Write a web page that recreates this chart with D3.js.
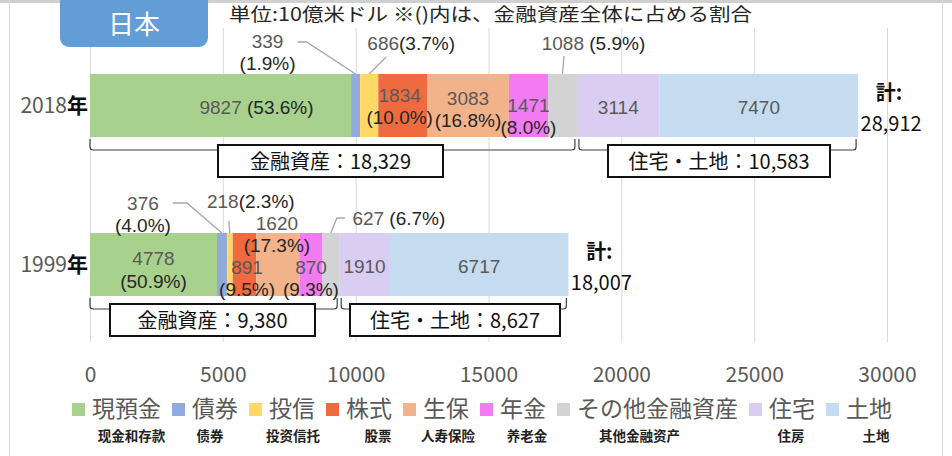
<!DOCTYPE html>
<html>
<head>
<meta charset="utf-8">
<script src="https://cdn.jsdelivr.net/npm/d3@7"></script>
<style>
  html, body { margin: 0; padding: 0; background: #fff; }
  svg { display: block; font-family: 'Noto Sans CJK JP', 'Noto Sans', sans-serif; }
</style>
</head>
<body>
<svg id="chart" width="952" height="456"></svg>
<script>
// ---------------- data ----------------
const categories = ["現預金", "債券", "投信", "株式", "生保", "年金", "その他金融資産", "住宅", "土地"];
const subLabels = ["现金和存款", "债券", "投资信托", "股票", "人寿保险", "养老金", "其他金融资产", "住房", "土地"];
const years = ["2018年", "1999年"];
const values2018 = [9827, 339, 686, 1834, 3083, 1471, 1088, 3114, 7470];
const values1999 = [4778, 376, 218, 891, 1620, 870, 627, 1910, 6717];
const pct2018 = ["53.6%", "1.9%", "3.7%", "10.0%", "16.8%", "8.0%", "5.9%", null, null];
const pct1999 = ["50.9%", "4.0%", "2.3%", "9.5%", "17.3%", "9.3%", "6.7%", null, null];
const finTotalLabels = ["18,329", "9,380"];
const landTotalLabels = ["10,583", "8,627"];
const totalLabels = ["28,912", "18,007"];
const xTicks = [0, 5000, 10000, 15000, 20000, 25000, 30000];
const titleText = "日本";
const unitText = "単位:10億米ドル ※()内は、金融資産全体に占める割合";
const finName = "金融資産";
const landName = "住宅・土地";
const totalName = "計:";

// ---------------- styles / layout ----------------
const colors = ["#A9D18E", "#8FAADC", "#FFD966", "#EF6A3F", "#F2B38A", "#F27AF2", "#D3D3D3", "#D9CDF2", "#C5DCF0"];
const NUM = "#595959", PCT = "#262626";
const LABEL_FS = 19;
const LABEL_FONT = "'Liberation Sans', Arial, sans-serif";
const labelLayout = {
  "2018年": [
    { fmt: "inline", dx: 36, ref: "c", dy: [2] },
    { fmt: "two", dx: -88, ref: "t", dy: [-33, -11], leader: [[-58, -32], [-49, -32], [0, 0]] },
    { fmt: "joined", dx: 42, ref: "t", dy: [-31], leader: [[17, -17], [0, 0]] },
    { fmt: "two", dx: -3, ref: "c", dy: [-10, 12] },
    { fmt: "two", dx: 0, ref: "c", dy: [-7, 15] },
    { fmt: "two", dx: 0, ref: "c", dy: [0, 22] },
    { fmt: "inline", dx: 31, ref: "t", dy: [-31], leader: [[1.5, -18], [0, 0]] },
    { fmt: "num", dx: 0, ref: "c", dy: [2] },
    { fmt: "num", dx: 0, ref: "c", dy: [2] }
  ],
  "1999年": [
    { fmt: "two", dx: 0, ref: "c", dy: [-6, 17] },
    { fmt: "two", dx: -79, ref: "t", dy: [-30, -8], leader: [[-49, -30], [-35, -30], [0, 0]] },
    { fmt: "joined", dx: 21, ref: "t", dy: [-32], leader: [[-1, -12], [0, 0]] },
    { fmt: "two", dx: 2.5, ref: "c", dy: [3, 25] },
    { fmt: "two", dx: -1, ref: "c", dy: [-41, -19] },
    { fmt: "two", dx: 0, ref: "c", dy: [3, 25] },
    { fmt: "inline", dx: 68, ref: "t", dy: [-15], leader: [[14, -15], [6, -15], [0, 0]] },
    { fmt: "num", dx: 0, ref: "c", dy: [2] },
    { fmt: "num", dx: 0, ref: "c", dy: [2] }
  ]
};
const subDx = [5, -5, 1, 9, 2, 4, -18, -1, 7];

// ---------------- build ----------------
const valuesByYear = { "2018年": values2018, "1999年": values1999 };
const pctByYear = { "2018年": pct2018, "1999年": pct1999 };
const table = years.map(yr => {
  const row = { year: yr };
  categories.forEach((c, i) => row[c] = valuesByYear[yr][i]);
  return row;
});
const series = d3.stack().keys(categories)(table);

const svg = d3.select("#chart");
const x = d3.scaleLinear().domain([0, 30000]).range([90, 887]);
const yC = d3.scalePoint().domain(years).range([105.5, 264.5]);
const barH = 63;
const color = d3.scaleOrdinal().domain(categories).range(colors);

// frame lines
svg.append("line").attr("x1", 0).attr("x2", 952).attr("y1", 1.5).attr("y2", 1.5).attr("stroke", "#cfcfcf").attr("stroke-width", 3);
svg.append("line").attr("x1", 9.5).attr("x2", 9.5).attr("y1", 0).attr("y2", 456).attr("stroke", "#dedede");
svg.append("line").attr("x1", 942.5).attr("x2", 942.5).attr("y1", 0).attr("y2", 456).attr("stroke", "#dedede");

// grid + axis
const axisG = svg.append("g").attr("transform", "translate(0,342)")
  .call(d3.axisBottom(x).tickValues(xTicks).tickSize(-314).tickFormat(d3.format("d")));
axisG.select(".domain").remove();
axisG.selectAll(".tick line").attr("stroke", "#d9d9d9");
axisG.selectAll(".tick text").attr("y", 33).attr("dy", "0.35em")
  .attr("font-size", 21).attr("fill", NUM).attr("font-family", "'Noto Sans CJK JP', sans-serif");

// title box
svg.append("rect").attr("x", 60).attr("y", -12).attr("width", 148).attr("height", 59).attr("rx", 9)
  .attr("fill", "#639DD6");
svg.append("text").attr("x", 134).attr("y", 25).attr("dy", "0.35em").attr("text-anchor", "middle")
  .attr("font-size", 26).attr("fill", "#fff").text(titleText);
svg.append("text").attr("x", 229).attr("y", 15).attr("dy", "0.35em")
  .attr("font-size", 18.5).attr("fill", "#262626").attr("textLength", 523).attr("lengthAdjust", "spacingAndGlyphs")
  .text(unitText);

// bars
svg.append("g").selectAll("g").data(series).join("g")
  .attr("fill", d => color(d.key))
  .selectAll("rect").data(d => d).join("rect")
  .attr("x", d => x(d[0]))
  .attr("width", d => x(d[1]) - x(d[0]))
  .attr("y", d => yC(d.data.year) - barH / 2)
  .attr("height", barH);

// year labels
years.forEach(yr => {
  const t = svg.append("text").attr("x", 88).attr("y", yC(yr)).attr("dy", "0.35em")
    .attr("text-anchor", "end").attr("font-size", 21);
  t.append("tspan").attr("fill", NUM).text(yr.replace("年", ""));
  t.append("tspan").attr("fill", "#111").attr("font-weight", "bold").text("年");
});

// value labels
const labG = svg.append("g").attr("font-size", LABEL_FS).attr("font-family", LABEL_FONT);
years.forEach(yr => {
  const vals = valuesByYear[yr], pcts = pctByYear[yr];
  const cy = yC(yr), top = cy - barH / 2;
  labelLayout[yr].forEach((L, i) => {
    const s = series[i].find(d => d.data.year === yr);
    const cx = (x(s[0]) + x(s[1])) / 2;
    const base = L.ref === "t" ? top : cy;
    if (L.leader) {
      labG.append("path")
        .attr("d", d3.line()(L.leader.map(p => [cx + p[0], top + p[1]])))
        .attr("fill", "none").attr("stroke", "#a6a6a6").attr("stroke-width", 1.3);
    }
    const tx = cx + L.dx;
    if (L.fmt === "two") {
      labG.append("text").attr("x", tx).attr("y", base + L.dy[0]).attr("dy", "0.35em")
        .attr("text-anchor", "middle").attr("fill", NUM).text(vals[i]);
      labG.append("text").attr("x", tx).attr("y", base + L.dy[1]).attr("dy", "0.35em")
        .attr("text-anchor", "middle").attr("fill", PCT).text("(" + pcts[i] + ")");
    } else if (L.fmt === "num") {
      labG.append("text").attr("x", tx).attr("y", base + L.dy[0]).attr("dy", "0.35em")
        .attr("text-anchor", "middle").attr("fill", NUM).text(vals[i]);
    } else {
      const t = labG.append("text").attr("x", tx).attr("y", base + L.dy[0]).attr("dy", "0.35em")
        .attr("text-anchor", "middle");
      t.append("tspan").attr("fill", NUM).text(vals[i] + (L.fmt === "inline" ? " " : ""));
      t.append("tspan").attr("fill", PCT).text("(" + pcts[i] + ")");
    }
  });
});

// totals
years.forEach((yr, yi) => {
  const cy = yC(yr);
  const total = d3.sum(valuesByYear[yr]);
  const tx = x(total) + 33;
  svg.append("text").attr("x", tx - 2).attr("y", cy - 13).attr("dy", "0.35em").attr("text-anchor", "middle")
    .attr("font-size", 20).attr("fill", "#111").attr("font-weight", "bold").text(totalName);
  svg.append("text").attr("x", tx).attr("y", cy + 18).attr("dy", "0.35em").attr("text-anchor", "middle")
    .attr("font-size", 20).attr("fill", "#111").text(totalLabels[yi]);
});

// brackets + boxes
const boxLayout = {
  "2018年": { fin: [218, 225], land: [608, 222] },
  "1999年": { fin: [110, 205], land: [350, 210] }
};
years.forEach((yr, yi) => {
  const vals = valuesByYear[yr];
  const finSum = d3.sum(vals.slice(0, 7));
  const total = d3.sum(vals);
  const bottom = yC(yr) + barH / 2;
  const y0 = bottom + 2, y1 = bottom + 13;
  const segs = [[x(0), x(finSum) - 2], [x(finSum) + 2, x(total) - 2]];
  segs.forEach(([a, b]) => {
    svg.append("path")
      .attr("d", `M${a},${y0} L${a},${y1 - 3} Q${a},${y1} ${a + 3},${y1} L${b - 3},${y1} Q${b},${y1} ${b},${y1 - 3} L${b},${y0}`)
      .attr("fill", "none").attr("stroke", "#404040").attr("stroke-width", 1.2);
  });
  const bl = boxLayout[yr];
  const boxTop = bottom + 8, boxH = 32;
  [[bl.fin, finName + "：" + finTotalLabels[yi]], [bl.land, landName + "：" + landTotalLabels[yi]]].forEach(([bx, label]) => {
    svg.append("rect").attr("x", bx[0]).attr("y", boxTop).attr("width", bx[1]).attr("height", boxH)
      .attr("fill", "#fff").attr("stroke", "#111").attr("stroke-width", 2);
    svg.append("text").attr("x", bx[0] + bx[1] / 2).attr("y", boxTop + boxH / 2 + 1).attr("dy", "0.35em")
      .attr("text-anchor", "middle").attr("font-size", 20).attr("fill", "#111").text(label);
  });
});

// legend
const legG = svg.append("g");
let lx = 72;
categories.forEach((c, i) => {
  legG.append("rect").attr("x", lx).attr("y", 403).attr("width", 13).attr("height", 13).attr("fill", color(c));
  const t = legG.append("text").attr("x", lx + 20).attr("y", 409).attr("dy", "0.35em")
    .attr("font-size", 23).attr("fill", NUM).text(c);
  const w = t.node().getComputedTextLength();
  const center = lx + 20 + w / 2;
  legG.append("text").attr("x", center + subDx[i]).attr("y", 436).attr("dy", "0.35em")
    .attr("text-anchor", "middle").attr("font-size", 13.5).attr("font-weight", "bold").attr("fill", "#222")
    .text(subLabels[i]);
  lx += 20 + w + 11;
});
</script>
</body>
</html>
